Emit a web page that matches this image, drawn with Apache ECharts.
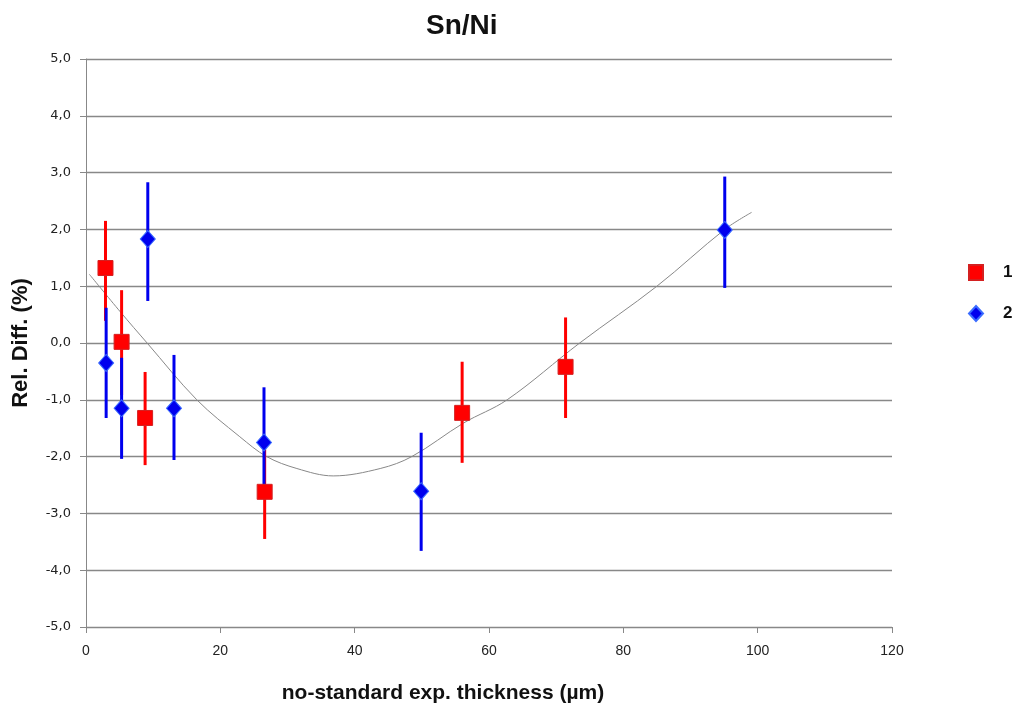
<!DOCTYPE html>
<html>
<head>
<meta charset="utf-8">
<script src="https://cdn.jsdelivr.net/npm/echarts@6/dist/echarts.min.js"></script>
<style>
  html, body { margin: 0; padding: 0; background: #fff; }
  #chart { width: 1012px; height: 711px; }
</style>
</head>
<body>
<div id="chart"></div>
<script>
// series 1 (red squares)
var s1X  = [2.9, 5.3, 8.8, 26.6, 56.0, 71.4];
var s1Y  = [1.32, 0.02, -1.32, -2.62, -1.23, -0.42];
var s1Hi = [2.15, 0.93, -0.51, -1.87, -0.33, 0.45];
var s1Lo = [0.39, -0.92, -2.15, -3.45, -2.11, -1.32];

// series 2 (blue diamonds)
var s2X  = [3.0, 5.3, 9.2, 13.1, 26.5, 49.9, 95.1];
var s2Y  = [-0.35, -1.15, 1.83, -1.15, -1.75, -2.61, 1.99];
var s2Hi = [0.62, -0.26, 2.83, -0.21, -0.78, -1.58, 2.93];
var s2Lo = [-1.32, -2.04, 0.74, -2.06, -2.55, -3.66, 0.97];

// trend line
var trendX = [0.5, 5.1, 9.1, 16.5, 22.9, 26.9, 31.4, 36.8, 43.8, 48.5, 56.2, 62.7, 73.5, 85.0, 95.1, 99.1];
var trendY = [1.21, 0.55, 0.0, -1.0, -1.65, -2.0, -2.21, -2.34, -2.21, -2.0, -1.41, -1.0, 0.0, 1.0, 2.0, 2.30];

function pairs(xs, ys) {
  return xs.map(function (x, i) { return [x, ys[i]]; });
}
function bars(xs, lo, hi) {
  return xs.map(function (x, i) { return [x, lo[i], hi[i]]; });
}
function errRender(color) {
  return function (params, api) {
    var a = api.coord([api.value(0), api.value(1)]);
    var b = api.coord([api.value(0), api.value(2)]);
    return {
      type: 'line',
      shape: { x1: a[0], y1: a[1], x2: b[0], y2: b[1] },
      style: { stroke: color, lineWidth: 3 }
    };
  };
}

var myChart = echarts.init(document.getElementById('chart'));

var options = {
  animation: false,
  title: {
    text: 'Sn/Ni',
    left: 421,
    top: 7,
    textStyle: { fontFamily: 'Liberation Sans', fontSize: 28, fontWeight: 'bold', color: '#111' }
  },
  legend: {
    orient: 'vertical',
    left: 963,
    top: 259,
    itemWidth: 14,
    itemHeight: 15,
    itemGap: 24,
    data: ['1', '2'],
    textStyle: { fontFamily: 'Liberation Sans', fontSize: 17, fontWeight: 'bold', color: '#111', padding: [0, 0, 0, 15] }
  },
  grid: { left: 86, right: 120, top: 59, bottom: 84 },
  xAxis: {
    type: 'value',
    min: 0,
    max: 120,
    interval: 20,
    name: 'no-standard exp. thickness (µm)',
    nameLocation: 'middle',
    nameGap: 56,
    nameTextStyle: { fontFamily: 'Liberation Sans', fontSize: 21, fontWeight: 'bold', color: '#111', padding: [0, 92, 0, 0] },
    axisLine: { onZero: false, lineStyle: { color: '#888', width: 1 } },
    axisTick: { show: true, length: 6, lineStyle: { color: '#888' } },
    axisLabel: { margin: 17, fontFamily: 'Liberation Sans', fontSize: 14, color: '#222' },
    splitLine: { show: false }
  },
  yAxis: {
    type: 'value',
    min: -5,
    max: 5,
    interval: 1,
    name: 'Rel. Diff. (%)',
    nameLocation: 'middle',
    nameGap: 54,
    nameTextStyle: { fontFamily: 'Liberation Sans', fontSize: 22, fontWeight: 'bold', color: '#111' },
    axisLine: { show: true, onZero: false, lineStyle: { color: '#888', width: 1 } },
    axisTick: { show: true, length: 6, lineStyle: { color: '#888' } },
    axisLabel: {
      margin: 15,
      fontFamily: 'DejaVu Sans',
      fontSize: 13,
      color: '#222',
      formatter: function (v) { return v.toFixed(1).replace('.', ','); }
    },
    splitLine: { show: true, lineStyle: { color: '#888', width: 1.4 } }
  },
  series: [
    {
      name: 'trend',
      type: 'line',
      data: pairs(trendX, trendY),
      smooth: 0.35,
      showSymbol: false,
      lineStyle: { color: '#888', width: 1 },
      z: 1
    },
    {
      name: 'err1',
      type: 'custom',
      renderItem: errRender('#ff0000'),
      data: bars(s1X, s1Lo, s1Hi),
      z: 2
    },
    {
      name: 'err2',
      type: 'custom',
      renderItem: errRender('#0000ee'),
      data: bars(s2X, s2Lo, s2Hi),
      z: 2
    },
    {
      name: '1',
      type: 'scatter',
      symbol: 'rect',
      symbolSize: 15,
      itemStyle: { color: '#ff0000', borderColor: '#d42020', borderWidth: 1, opacity: 1 },
      data: pairs(s1X, s1Y),
      z: 3
    },
    {
      name: '2',
      type: 'scatter',
      symbol: 'diamond',
      symbolSize: [15, 17],
      itemStyle: { color: '#0000ee', borderColor: '#3a6cff', borderWidth: 1, opacity: 1 },
      data: pairs(s2X, s2Y),
      z: 4
    }
  ]
};

myChart.setOption(options, true);
</script>
</body>
</html>
